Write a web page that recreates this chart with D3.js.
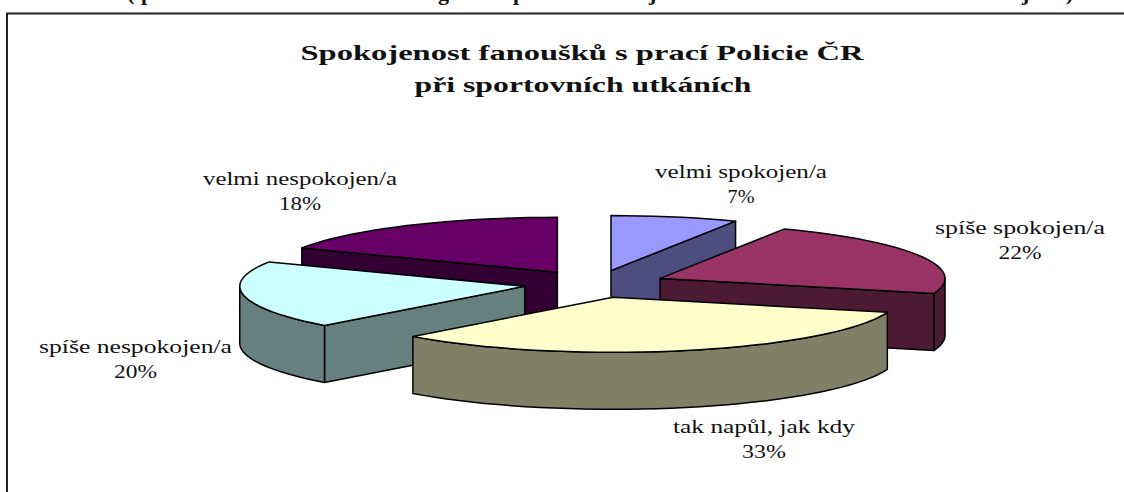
<!DOCTYPE html>
<html>
<head>
<meta charset="utf-8">
<script src="https://cdn.jsdelivr.net/npm/d3@7"></script>
<style>
  html, body { margin: 0; background: #fff; overflow: hidden; }
  svg { display: block; }
  text { font-family: "Liberation Serif", serif; fill: #111; }
</style>
</head>
<body>
<svg id="chart" width="1124" height="492"></svg>
<script>
// values, slice angles say they are a bit off the rounded labels
const categories = ['velmi spokojen/a', 'spíše spokojen/a', 'tak napůl, jak kdy', 'spíše nespokojen/a', 'velmi nespokojen/a'];
const shares = [7.2, 22.2, 33.0, 19.9, 17.7];
const topColors = ['#9999ff', '#993366', '#ffffcc', '#ccffff', '#660066'];
const sideColors = ['#4d4d80', '#4d1a33', '#808066', '#668080', '#330033'];
const titleLines = ['Spokojenost fanoušků s prací Policie ČR', 'při sportovních utkáních'];

// where the labels sit, same order as categories
const labelCenters = [741, 1020, 764, 135.5, 300];
const labelBaselines = [178, 234, 433, 353, 185];
const nameWidths = [172, 170, 182, 193, 194];
const pctWidths = [27, 43, 44, 43, 42];

// only the underhangs of the page heading above the chart are on screen
const headingGlyphs = ['(', 'p', 'g', 'p', 'j', 'j', ')'];
const headingX = [127, 141, 438, 513, 649, 1022, 1066];

const width = 1124, height = 492;
const cx = 595, cy = 284, rx = 285, ry = 55;
const depth = 57, explode = 0.25;

const svg = d3.select('#chart');

// the projection is just two linear scales, unit circle to the flattened ellipse
const px = d3.scaleLinear().domain([-1, 1]).range([cx - rx, cx + rx]);
const py = d3.scaleLinear().domain([-1, 1]).range([cy - ry, cy + ry]);
const line = d3.line();

const arcs = d3.pie().sort(null).value(d => d)(shares).map((a, i) => {
  const mid = (a.startAngle + a.endAngle) / 2;
  return {
    ...a, i,
    ex: explode * Math.sin(mid),
    ey: -explode * Math.cos(mid),
  };
});

function pt(a, angle, r, drop = 0) {
  return [px(a.ex + r * Math.sin(angle)), py(a.ey - r * Math.cos(angle)) + drop];
}

function rimPoints(a, from, to, drop = 0) {
  const n = Math.max(2, Math.ceil((to - from) / (Math.PI / 60)));
  return d3.range(n + 1).map(k => pt(a, from + (to - from) * k / n, 1, drop));
}

// back slices first, the one nearest the viewer on top
arcs.sort((p, q) => d3.ascending(pt(p, 0, 0)[1], pt(q, 0, 0)[1]));

const slices = svg.append('g').selectAll('g').data(arcs).join('g')
  .attr('stroke', '#000')
  .attr('stroke-width', 1.5)
  .attr('stroke-linejoin', 'round');

slices.each(function (a) {
  const g = d3.select(this);
  const side = sideColors[a.i];

  function wall(top) {
    const bottom = top.map(p => [p[0], p[1] + depth]).reverse();
    g.append('path').attr('fill', side).attr('d', line(top.concat(bottom)) + 'Z');
  }

  // cut faces that turn toward the viewer
  if (Math.sin(a.startAngle) < -1e-6) wall([pt(a, 0, 0), pt(a, a.startAngle, 1)]);
  if (Math.sin(a.endAngle) > 1e-6) wall([pt(a, 0, 0), pt(a, a.endAngle, 1)]);

  // outer rim, front half of the ellipse only
  const from = Math.max(a.startAngle, Math.PI / 2);
  const to = Math.min(a.endAngle, Math.PI * 1.5);
  if (to > from) wall(rimPoints(a, from, to));

  g.append('path').attr('fill', topColors[a.i])
    .attr('d', line([pt(a, 0, 0), ...rimPoints(a, a.startAngle, a.endAngle)]) + 'Z');
});

// data labels
const labels = svg.append('g').attr('text-anchor', 'middle').attr('font-size', 19);
categories.forEach((name, i) => {
  labels.append('text')
    .attr('x', labelCenters[i]).attr('y', labelBaselines[i])
    .attr('textLength', nameWidths[i]).attr('lengthAdjust', 'spacingAndGlyphs')
    .text(name);
  labels.append('text')
    .attr('x', labelCenters[i]).attr('y', labelBaselines[i] + 25)
    .attr('textLength', pctWidths[i]).attr('lengthAdjust', 'spacingAndGlyphs')
    .text(d3.format('.0f')(shares[i]) + '%');
});

// title
svg.append('g').attr('text-anchor', 'middle')
  .attr('font-size', 21).attr('font-weight', 'bold')
  .selectAll('text').data(titleLines).join('text')
  .attr('x', (d, i) => i ? 583 : 582)
  .attr('y', (d, i) => 60 + i * 32)
  .attr('textLength', (d, i) => i ? 337 : 563)
  .attr('lengthAdjust', 'spacingAndGlyphs')
  .text(d => d);

// chart frame, cut off by the window at right and bottom
svg.append('path')
  .attr('d', `M${width},13.5H7V${height}`)
  .attr('fill', 'none').attr('stroke', '#222').attr('stroke-width', 2);

svg.append('g').attr('font-size', 22).attr('font-weight', 'bold')
  .selectAll('text').data(headingGlyphs).join('text')
  .attr('x', (d, i) => headingX[i]).attr('y', 0)
  .text(d => d);
</script>
</body>
</html>
